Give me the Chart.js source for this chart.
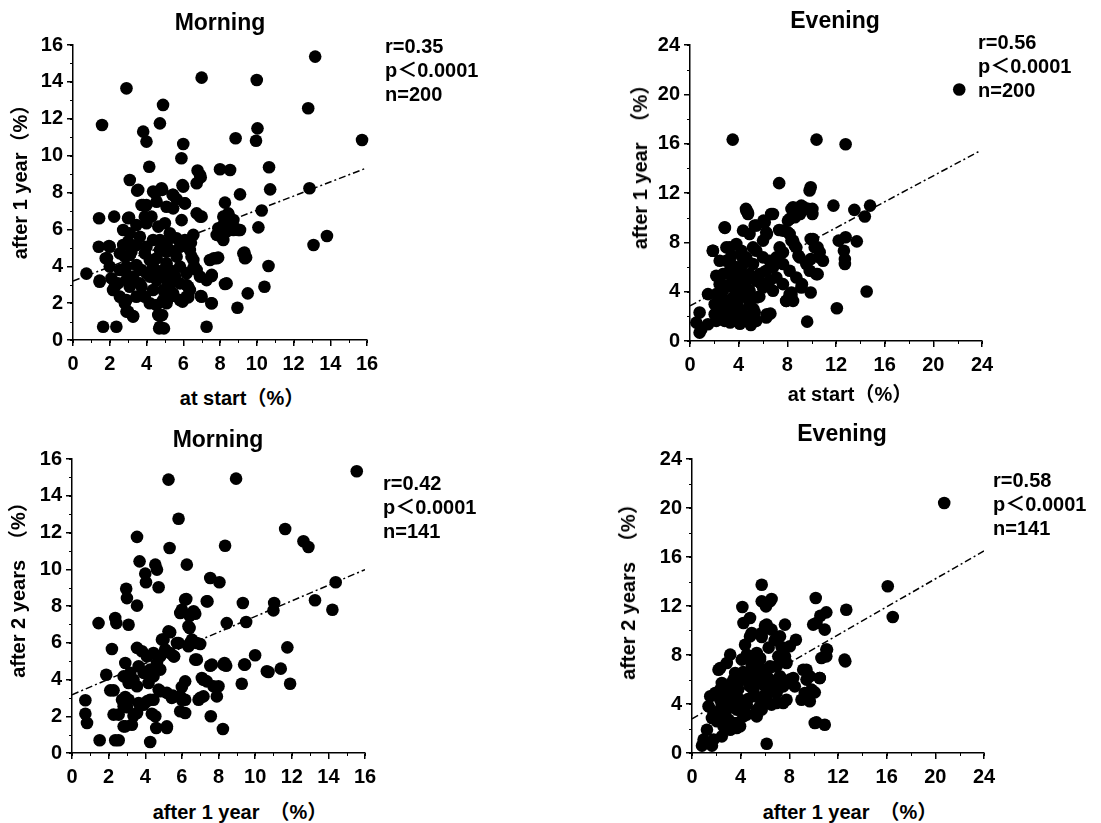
<!DOCTYPE html>
<html>
<head>
<meta charset="utf-8">
<script src="https://cdn.jsdelivr.net/npm/chart.js@4.4.1/dist/chart.umd.min.js"></script>
<style>
  body { margin: 0; background: #fff; }
  #wrap { position: relative; width: 1101px; height: 823px; overflow: hidden; background: #fff; }
  #wrap canvas { position: absolute; }
  .lbl { position: absolute; font-family: 'Liberation Sans', Arial, 'Noto Sans CJK JP', sans-serif; font-weight: bold; color: #000; white-space: nowrap; line-height: 1; }
  .ctr { transform: translate(-50%, -50%); }
  .rot { transform: translate(-50%, -50%) rotate(-90deg); }
  .stat { transform: translateY(-50%); }
</style>
</head>
<body>
<div id="wrap">
  <canvas id="c0"></canvas>
  <canvas id="c1"></canvas>
  <canvas id="c2"></canvas>
  <canvas id="c3"></canvas>
</div>
<script>
  // morning: at start vs after 1 year
  var morningY1 = [
    [0.73,3.6],[1.58,11.66],[2.91,13.65],[3.82,11.3],[4.0,10.76],[4.15,9.4],[4.73,11.75],[4.9,12.75],[7.0,14.23],[10.0,14.1],
    [13.18,15.37],[12.8,12.57],[15.73,10.85],[10.04,11.48],[9.96,10.81],[8.85,10.94],[6.0,10.63],[5.9,9.86],[6.78,9.19],[6.95,8.82],
    [8.0,9.26],[8.55,9.22],[10.67,9.37],[10.73,8.17],[9.09,7.9],[10.27,7.02],[12.87,8.23],[13.09,5.15],[13.82,5.64],[10.09,6.11],
    [10.64,4.01],[10.42,2.89],[9.33,4.74],[9.42,4.48],[9.51,2.53],[8.95,1.75],[8.27,3.04],[7.55,3.47],[7.53,1.99],[6.95,2.39],
    [7.27,0.72],[1.64,0.72],[2.36,0.72],[4.69,0.63],[4.95,0.63],[4.85,1.36],[3.09,8.68],[3.49,8.1],[1.42,6.6],[2.24,6.69],
    [1.45,3.22],[1.4,5.06],[1.85,4.43],[2.0,5.06],[3.0,3.43],[2.91,1.54],[3.27,1.3],[9.09,5.97],[8.27,7.45],[8.45,6.78],
    [8.55,6.29],[8.73,5.97],[8.18,5.79],[8.0,5.97],[7.67,4.43],[7.9,4.47],[5.91,6.5],[5.96,8.4],[6.09,7.41],[5.42,7.87],
    [5.64,7.63],[4.49,7.96],[4.85,8.14],[3.82,7.32],[4.0,7.32],[6.73,6.87],[7.0,6.69],[3.0,6.6],[2.73,5.97],[6.55,5.7],
    [6.42,5.28],[6.45,4.52],[6.6,3.98],[6.27,2.89],[5.96,2.08],[6.27,2.31],[5.18,2.26],[1.96,5.1],[1.78,4.43],[1.45,3.16],
    [2.09,3.35],[2.27,2.89],[2.55,2.35],[2.82,1.99],[3.0,1.54],[3.27,1.27],[2.91,3.25],[3.05,6.64],[3.09,5.79],[3.0,5.33],
    [2.82,4.52],[3.18,4.79],[2.55,4.7],[3.45,4.07],[3.73,3.8],[3.64,3.07],[3.91,2.35],[4.18,1.99],[4.55,1.9],[4.0,6.33],
    [4.27,6.69],[4.36,5.42],[4.0,5.06],[4.55,4.43],[4.36,3.98],[4.18,3.44],[4.55,3.25],[4.91,3.8],[5.09,4.16],[4.64,6.15],
    [5.0,6.33],[5.27,5.79],[5.09,5.24],[4.73,5.42],[5.27,4.88],[5.64,4.52],[5.27,3.8],[5.82,3.98],[5.82,3.07],[5.45,2.53],
    [5.82,2.17],[6.18,2.35],[6.36,2.71],[6.18,2.98],[6.09,5.42],[6.36,4.88],[6.55,4.34],[6.73,3.8],[6.91,3.44],[7.27,3.25],
    [7.55,3.53],[7.82,4.43],[7.45,4.34],[7.0,2.35],[7.55,1.99],[8.36,3.07],[4.64,1.36],[4.73,0.72],[3.55,8.14],[4.36,8.05],
    [4.82,8.23],[5.45,7.87],[6.09,7.41],[6.0,8.32],[4.55,7.5],[5.09,7.23],[5.45,7.14],[3.73,7.32],[3.91,6.69],[2.73,5.15],
    [3.09,4.61],[3.45,5.15],[3.91,4.7],[3.64,5.6],[3.45,6.24],[4.18,4.34],[4.73,4.88],[5.09,4.79],[4.0,3.62],[4.73,3.62],
    [5.09,3.25],[3.73,2.89],[4.36,2.71],[4.91,2.71],[5.27,2.98],[5.55,3.44],[6.18,3.62],[6.55,3.89],[5.64,5.51],[5.82,5.06],
    [6.18,5.33],[2.18,2.71],[2.45,3.07],[2.0,3.98],[2.55,3.8],[2.91,3.98],[3.27,3.44],[3.09,2.89],[3.45,2.35],[2.91,2.17],
    [4.91,2.17],[5.27,2.35],[5.09,1.99],[8.18,6.24],[8.36,5.88],[8.09,5.6],[8.18,6.69],[8.45,6.87],[8.73,6.51],[8.82,6.06],
    [9.0,5.97],[7.91,6.06],[7.82,5.7],[8.18,5.42],[9.27,4.7],[9.36,4.43],[6.91,6.69],[6.73,8.5],[6.91,8.95]
  ];

  // evening: at start vs after 1 year
  var eveningY1 = [
    [3.51,16.33],[10.4,16.33],[12.79,15.95],[22.13,20.39],[7.33,12.8],[9.92,12.47],[9.83,12.2],[11.79,10.98],[13.51,10.63],[14.8,10.98],
    [14.37,10.09],[13.71,8.08],[12.22,8.14],[12.79,8.41],[12.65,7.32],[12.73,6.64],[12.73,6.24],[14.52,4.01],[12.07,2.66],[9.63,1.57],
    [2.87,9.17],[1.87,7.32],[4.6,10.71],[4.74,10.44],[9.34,10.85],[10.06,10.71],[10.06,10.3],[9.05,10.3],[8.34,10.71],[8.62,10.03],
    [8.19,9.9],[6.67,10.3],[6.04,9.76],[5.46,9.36],[6.32,8.68],[4.89,8.68],[7.33,9.0],[8.05,8.81],[8.34,8.14],[8.62,7.73],
    [8.91,6.92],[9.92,8.27],[10.49,7.59],[10.63,6.78],[9.92,6.64],[10.49,5.42],[9.92,3.93],[9.2,4.61],[8.34,3.93],[7.9,3.25],
    [6.61,2.22],[6.32,2.17],[0.79,2.31],[0.52,1.49],[0.93,0.95],[1.48,1.36],[0.79,0.68],[1.48,3.8],[1.89,7.32],[2.16,5.29],
    [2.44,4.61],[2.03,2.98],[2.44,2.71],[2.03,2.17],[2.85,9.22],[2.99,7.59],[2.99,6.51],[3.26,5.7],[2.71,4.07],[2.99,3.25],
    [3.26,1.9],[2.85,1.63],[3.81,7.86],[4.22,7.32],[4.63,10.58],[4.77,10.3],[5.32,9.36],[6.14,9.63],[6.82,10.3],[4.36,8.95],
    [5.18,7.59],[5.45,7.32],[6.0,8.14],[6.27,8.81],[3.81,5.97],[4.36,6.24],[4.9,5.42],[4.63,4.88],[3.81,4.88],[4.08,4.07],
    [4.9,4.07],[5.45,4.88],[5.73,5.42],[6.27,5.7],[6.82,5.97],[6.55,4.88],[6.0,4.34],[5.45,3.53],[4.9,2.98],[4.22,2.44],
    [3.81,1.63],[4.63,1.63],[5.45,1.63],[5.32,2.31],[6.0,6.78],[6.55,6.51],[7.1,6.78],[7.64,6.24],[8.19,5.7],[8.74,5.15],
    [7.64,8.95],[8.19,8.68],[8.47,8.14],[8.74,7.59],[9.01,6.78],[9.56,6.24],[9.84,5.7],[10.38,5.42],[7.37,7.59],[7.64,7.19],
    [7.1,5.15],[7.64,4.61],[8.19,3.8],[8.47,3.25],[6.27,1.9],[3.26,7.59],[3.4,6.92],[2.44,6.51],[2.16,3.8],[2.71,5.42],
    [3.53,3.53],[3.4,2.71],[2.71,1.9],[2.16,1.63],[6.82,4.07],[5.18,6.24],[4.63,6.78],[10.11,8.27],[10.25,7.59],[10.66,7.19],
    [10.93,6.51],[8.47,10.85],[8.88,10.44],[9.15,10.98],[9.7,10.71],[8.05,9.76],[9.15,4.34],[8.33,3.66],[7.92,3.25],
    [3.0,4.5],[3.5,5.0],[4.2,5.5],[3.6,4.3],[4.4,3.6],[5.0,3.5],[3.2,3.0],[4.0,2.3],[4.7,2.0],[5.2,2.6],
    [5.7,3.6],[3.4,6.2],[4.3,6.8],[5.3,5.0],[3.9,2.9],[2.5,3.3],[3.0,2.3],[2.3,2.5],[5.8,4.7],[3.7,5.3],
    [4.1,1.4],[3.3,1.5],[5.0,1.3],[4.5,4.6],[3.9,3.4]
  ];

  // morning: after 1 year vs after 2 years
  var morningY2 = [
    [15.55,15.33],[5.27,14.88],[8.96,14.93],[5.82,12.75],[3.55,11.76],[11.64,12.19],[12.64,11.52],[12.91,11.21],[8.36,11.28],[5.33,11.16],
    [3.69,10.43],[4.55,10.25],[4.64,9.98],[4.0,9.76],[4.04,9.29],[4.73,9.02],[2.96,8.94],[6.27,10.25],[7.55,9.52],[8.05,9.29],
    [14.4,9.29],[6.24,8.38],[7.4,8.25],[9.33,8.16],[11.04,8.16],[11.0,7.76],[13.27,8.31],[14.22,7.8],[9.51,7.13],[8.45,7.07],
    [1.45,7.07],[2.36,7.35],[2.42,7.07],[3.09,6.98],[3.0,8.43],[3.55,8.02],[2.18,5.66],[1.87,4.26],[2.91,4.9],[0.73,2.87],
    [0.73,2.14],[0.82,1.63],[1.51,0.69],[2.36,0.69],[2.55,0.69],[4.27,0.6],[5.18,1.36],[4.6,1.36],[5.91,2.27],[7.58,2.0],
    [8.24,1.31],[9.27,3.77],[9.4,4.81],[10.0,5.32],[10.73,4.41],[11.4,4.59],[11.76,5.75],[11.91,3.77],[8.33,4.9],[8.42,4.75],
    [7.55,4.75],[6.82,5.08],[7.0,5.93],[6.45,5.99],[6.55,6.17],[6.42,6.8],[6.0,7.8],[6.42,7.47],[6.73,7.58],[5.82,5.99],
    [5.36,6.57],[5.0,6.17],[5.58,5.26],[6.18,3.9],[6.0,3.59],[6.0,2.9],[5.51,3.12],[4.82,3.36],[4.45,2.9],[4.09,2.81],
    [7.09,4.08],[7.36,3.9],[7.73,3.63],[7.18,3.08],[6.91,2.9],[7.91,3.08],[4.36,2.14],[4.55,2.0],[3.36,2.03],[3.27,1.54],
    [2.91,1.45],[2.27,2.09],[2.09,3.41],[2.27,3.41],[2.91,3.05],[3.09,2.9],[3.0,2.49],[2.73,2.9],[2.82,2.54],[2.55,2.09],
    [2.82,1.45],[3.55,2.18],[3.64,2.72],[3.91,2.63],[4.27,2.9],[5.18,1.45],[2.82,4.17],[3.18,4.36],[3.36,3.99],[3.09,3.81],
    [3.55,3.63],[3.55,5.72],[3.82,5.54],[4.09,5.26],[4.45,5.44],[4.82,5.26],[5.09,5.63],[5.36,5.44],[5.55,5.26],[3.64,4.72],
    [3.91,4.36],[4.27,4.54],[4.64,4.9],[4.82,4.54],[4.45,4.17],[4.18,3.81],[4.73,3.45],[5.18,3.27],[5.45,3.0],[5.91,3.09],
    [6.18,2.9],[6.18,2.18],[4.91,6.17],[5.27,6.62],[5.73,5.99],[5.91,7.62],[6.18,8.35],[6.64,7.71],[6.36,6.9],[6.82,5.99],
    [6.36,5.81],[6.73,5.08],[7.36,8.26],[7.18,3.99],[8.0,3.63],[7.0,3.0],[7.64,4.81],[8.27,4.81],[9.45,4.81],[10.64,4.45]
  ];

  // evening: after 1 year vs after 2 years
  var eveningY2 = [
    [20.73,20.41],[16.09,13.61],[16.5,11.1],[12.68,11.7],[12.6,7.48],[10.17,12.65],[11.04,11.48],[10.55,11.21],[10.23,10.61],[9.96,10.48],
    [10.91,10.07],[11.1,8.44],[11.04,7.89],[10.64,7.76],[10.5,6.12],[10.09,4.95],[10.23,2.5],[10.91,2.31],[9.41,6.8],[9.68,6.26],
    [9.41,5.99],[9.0,4.35],[9.68,4.22],[8.54,9.25],[8.04,8.71],[7.64,7.89],[7.77,7.35],[7.64,10.48],[7.23,9.52],[7.36,8.65],
    [5.73,13.74],[6.54,12.57],[6.08,11.97],[4.14,11.92],[4.77,11.02],[4.23,10.61],[4.77,9.52],[6.0,10.39],[6.54,10.07],[5.73,9.47],
    [7.23,5.39],[6.95,4.9],[7.5,4.08],[6.54,3.95],[8.04,5.99],[8.45,5.44],[6.14,0.76],[0.82,0.6],[1.64,0.6],[1.77,1.09],
    [1.5,4.63],[1.64,2.86],[1.36,3.81],[2.32,5.17],[2.45,5.71],[3.0,5.17],[2.32,4.35],[2.32,6.94],[2.86,7.35],[3.14,8.03],
    [3.55,6.53],[3.27,5.71],[4.09,7.62],[4.36,8.84],[4.5,8.03],[5.05,7.89],[5.32,8.16],[5.59,7.76],[2.05,2.59],[2.59,2.18],
    [2.73,3.13],[3.41,2.45],[3.68,2.04],[3.95,3.54],[4.36,4.08],[3.68,4.08],[4.5,3.13],[5.32,2.99],[5.59,3.81],[5.18,4.63],
    [4.77,5.44],[4.23,5.99],[4.64,6.53],[5.05,5.99],[5.73,6.39],[6.14,6.8],[6.41,5.99],[6.0,5.44],[6.82,5.44],[5.86,4.63],
    [6.14,4.22],[5.73,3.54],[3.41,4.08],[2.86,3.54],[2.18,3.4],[1.77,3.27],[1.23,1.9],[0.95,1.09],[6.95,7.07],[7.23,6.26],
    [1.91,3.27],[1.91,4.9],[2.45,3.95],[2.18,6.8],[3.41,5.99],[3.95,5.99],[4.91,9.8],[5.59,7.62],[5.86,6.8],[6.41,7.07],
    [5.73,9.8],[6.14,10.48],[7.09,7.89],[5.73,12.38],[6.41,12.38],[5.32,6.26],[5.59,5.71],[5.05,5.17],[6.14,4.63],[6.68,5.17],
    [7.5,5.44],[7.77,4.35],[6.95,4.08],[3.95,4.35],[4.5,3.95],[3.68,3.54],[4.23,2.99],[3.68,2.45],[3.14,1.9],[2.45,1.36],
    [3.95,2.18],[2.59,3.27],[3.0,2.72],[8.32,6.12],[9.14,6.8],[9.82,5.17],[9.27,4.9],[10.5,6.12],[10.09,2.45],[11.04,8.44],
    [12.54,7.62],[2.8,4.6],[3.3,4.9],[3.8,5.2],[4.6,4.4],[5.3,3.5],[5.0,6.8],[3.0,3.8],[2.5,2.8],[4.9,7.2],
    [6.3,8.6],[6.8,9.2],[5.5,6.9],[4.2,6.6]
  ];

  var seriesList = [morningY1, eveningY1, morningY2, eveningY2];
  // regression lines, start and end [x, y]
  var fitLines = [
    [[0, 3.2], [15.9, 9.3]],
    [[0, 2.85], [23.9, 15.45]],
    [[0, 3.17], [16, 9.98]],
    [[0, 2.78], [24, 16.5]]
  ];
  var axisMax = [16, 24, 16, 24];
  var majorStep = [2, 4, 2, 4];
  var minorStep = [1, 2, 1, 2];

  var panelTitles = ['Morning', 'Evening', 'Morning', 'Evening'];
  var xTitles = ['at start（%）', 'at start（%）', 'after 1 year　（%）', 'after 1 year　（%）'];
  var yTitles = ['after 1 year（%）', 'after 1 year　（%）', 'after 2 years　（%）', 'after 2 years　（%）'];
  var statR = ['r=0.35', 'r=0.56', 'r=0.42', 'r=0.58'];
  var statP = ['p＜0.0001', 'p＜0.0001', 'p＜0.0001', 'p＜0.0001'];
  var statN = ['n=200', 'n=200', 'n=141', 'n=141'];

  // layout: plot box [left, top, width, height]
  var plotBox = [[73, 45, 294, 295], [690, 45, 292, 296], [72, 459, 293, 294], [692, 459, 292, 294]];
  var titlePos = [[220, 22], [835, 20], [218, 439], [842, 433]];
  var yTitlePos = [[20, 177], [640, 162], [18, 585], [628, 587]];
  var xTitlePos = [[242, 398], [850, 394], [240, 812], [850, 812]];
  var statPos = [[385, 46], [978, 42], [383, 483], [993, 480]];

  var FONT = "'Liberation Sans', Arial, 'Noto Sans CJK JP', sans-serif";
  var Y_W = 62, X_H = 45, PAD = 20;

  var minorTicks = {
    id: 'minorTicks',
    afterDraw: function (chart) {
      var step = chart.options.plugins.minorTicks.step;
      var xs = chart.scales.x, ys = chart.scales.y;
      var ctx = chart.ctx;
      ctx.save();
      ctx.strokeStyle = '#000';
      ctx.lineWidth = 1;
      for (var v = 0; v <= xs.max + 0.001; v += step) {
        var px = Math.round(xs.getPixelForValue(v)) + 0.5;
        ctx.beginPath(); ctx.moveTo(px, ys.bottom); ctx.lineTo(px, ys.bottom + 3); ctx.stroke();
      }
      for (var w = 0; w <= ys.max + 0.001; w += step) {
        var py = Math.round(ys.getPixelForValue(w)) + 0.5;
        ctx.beginPath(); ctx.moveTo(xs.left, py); ctx.lineTo(xs.left - 3, py); ctx.stroke();
      }
      ctx.restore();
    }
  };

  function addLabel(text, x, y, size, cls) {
    var d = document.createElement('div');
    d.className = 'lbl ' + cls;
    d.style.left = x + 'px';
    d.style.top = y + 'px';
    d.style.fontSize = size + 'px';
    d.textContent = text;
    document.getElementById('wrap').appendChild(d);
  }

  function makePanel(i) {
    var box = plotBox[i];
    var cv = document.getElementById('c' + i);
    cv.width = box[2] + Y_W + PAD;
    cv.height = box[3] + PAD + X_H;
    cv.style.left = (box[0] - Y_W) + 'px';
    cv.style.top = (box[1] - PAD) + 'px';

    var pts = seriesList[i].map(function (p) { return { x: p[0], y: p[1] }; });
    var line = fitLines[i].map(function (p) { return { x: p[0], y: p[1] }; });

    var scaleOpts = function (isX) {
      return {
        type: 'linear',
        min: 0,
        max: axisMax[i],
        afterFit: function (s) { if (isX) { s.height = X_H; } else { s.width = Y_W; } },
        ticks: {
          stepSize: majorStep[i],
          color: '#000',
          padding: isX ? 6 : 4,
          font: { family: FONT, size: 20, weight: 'bold' }
        },
        grid: { display: true, drawOnChartArea: false, drawTicks: true, tickLength: 6, color: '#000', lineWidth: 1.5 },
        border: { display: true, color: '#000', width: 1.5 }
      };
    };

    new Chart(cv.getContext('2d'), {
      type: 'scatter',
      data: {
        datasets: [{
          data: pts,
          pointRadius: 6.3,
          pointBackgroundColor: '#000',
          pointBorderWidth: 0,
          clip: false
        }, {
          data: line,
          showLine: true,
          pointRadius: 0,
          borderColor: '#000',
          borderWidth: 1.5,
          borderDash: [7, 3, 2, 3],
          fill: false
        }]
      },
      options: {
        responsive: false,
        animation: false,
        layout: { padding: { left: 0, top: PAD, right: PAD, bottom: 0 } },
        scales: { x: scaleOpts(true), y: scaleOpts(false) },
        plugins: {
          legend: { display: false },
          tooltip: { enabled: false },
          minorTicks: { step: minorStep[i] }
        }
      },
      plugins: [minorTicks]
    });

    addLabel(panelTitles[i], titlePos[i][0], titlePos[i][1], 23, 'ctr');
    addLabel(yTitles[i], yTitlePos[i][0], yTitlePos[i][1], 20, 'rot');
    addLabel(xTitles[i], xTitlePos[i][0], xTitlePos[i][1], 20, 'ctr');
    addLabel(statR[i], statPos[i][0], statPos[i][1], 20, 'stat');
    addLabel(statP[i], statPos[i][0], statPos[i][1] + 24, 20, 'stat');
    addLabel(statN[i], statPos[i][0], statPos[i][1] + 48, 20, 'stat');
  }

  for (var k = 0; k < 4; k++) {
    makePanel(k);
  }
</script>
</body>
</html>
